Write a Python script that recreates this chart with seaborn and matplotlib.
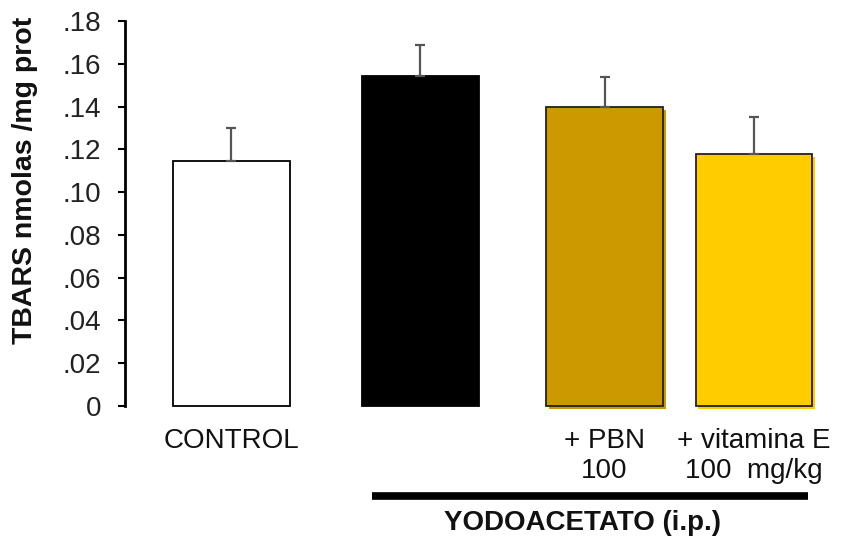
import matplotlib
matplotlib.use("Agg")
import matplotlib.pyplot as plt
import matplotlib.patheffects as pe
import matplotlib.transforms as mtransforms
import numpy as np
import pandas as pd
import seaborn as sns

# Data
groups = ["CONTROL", "YODOACETATO", "+ PBN", "+ vitamina E"]
tick_labels = ["CONTROL", "", "+ PBN\n100", "+ vitamina E\n100  mg/kg"]
positions = [0.0, 1.0, 1.974, 2.765]
tbars = [0.1145, 0.1542, 0.1396, 0.1176]
sem = [0.0157, 0.0144, 0.0140, 0.0173]
colors = ["#FFFFFF", "#000000", "#CC9900", "#FFCC00"]
edges = ["#000000", "#000000", "#222222", "#222222"]
y_ticks = [0, 0.02, 0.04, 0.06, 0.08, 0.10, 0.12, 0.14, 0.16, 0.18]
y_tick_labels = ["0", ".02", ".04", ".06", ".08", ".10", ".12", ".14", ".16", ".18"]

sns.set_theme(style="white")
plt.rcParams["font.family"] = ["Liberation Sans", "DejaVu Sans"]

df = pd.DataFrame({"group": groups, "pos": positions, "tbars": tbars})

fig = plt.figure(figsize=(8.48, 5.38), dpi=100)
ax = fig.add_axes([125 / 848, 1 - 406 / 538, (840 - 125) / 848, (406 - 21) / 538])

sns.barplot(data=df, x="pos", y="tbars", hue="group", hue_order=groups,
            palette=colors, saturation=1, native_scale=True, width=0.78,
            dodge=False, legend=False, ax=ax, errorbar=None)

for patch, col, ec in zip(ax.patches, colors, edges):
    patch.set_edgecolor(ec)
    patch.set_linewidth(1.3)
    patch.set_clip_on(False)
    if col not in ("#FFFFFF", "#000000"):
        patch.set_path_effects([
            pe.SimplePatchShadow(offset=(2, -2), shadow_rgbFace=col, alpha=1.0),
            pe.Normal(),
        ])

# upper-only error bars
ax.errorbar(positions, tbars, yerr=[np.zeros(len(sem)), sem], fmt="none",
            ecolor="#555555", elinewidth=1.6, capsize=3.5, capthick=1.6, zorder=3)

ax.set_xlim(-0.5635, 3.22)
ax.set_ylim(0, 0.18)
ax.set_yticks(y_ticks)
ax.set_yticklabels(y_tick_labels, fontsize=20, color="#222222")
ax.set_xticks(positions)
ax.set_xticklabels(tick_labels, fontsize=20, color="#111111", linespacing=1.2)
ax.tick_params(axis="x", length=0, pad=16)
ax.tick_params(axis="y", direction="out", length=5, width=1.5, color="black",
               pad=12, left=True)
ax.set_xlabel("")
ax.set_ylabel("")

for side in ("top", "right", "bottom"):
    ax.spines[side].set_visible(False)
ax.spines["left"].set_linewidth(2.0)
ax.spines["left"].set_color("black")

# treatment bracket and group title below the axis
trans = mtransforms.blended_transform_factory(ax.transData, ax.transAxes)
ax.plot([0.743, 3.05], [-0.234, -0.234], color="black", lw=5.5,
        solid_capstyle="butt", transform=trans, clip_on=False)
ax.text(1.86, -0.304, "YODOACETATO (i.p.)", transform=trans, ha="center",
        va="center", fontsize=20, fontweight="bold", color="#111111")

fig.text(25 / 848, 1 - 180 / 538, "TBARS nmolas /mg prot", rotation=90,
         ha="center", va="center", fontsize=20.5, fontweight="bold", color="#111111")

fig.savefig("out.png", dpi=100)
